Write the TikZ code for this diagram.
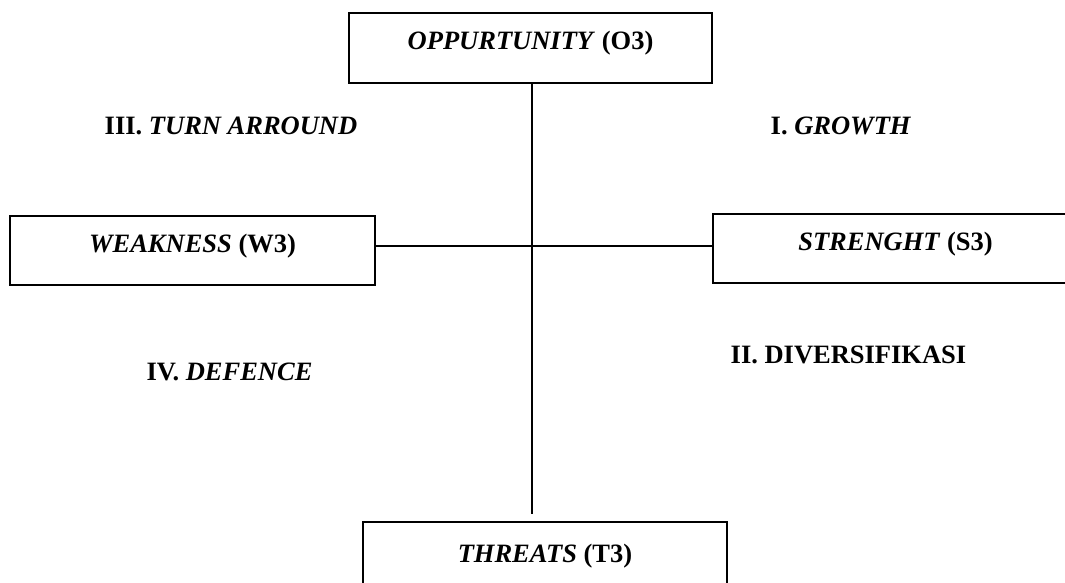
\documentclass[tikz,border=0pt]{standalone}
\usepackage{fontspec}
\setmainfont{Liberation Serif}
\newcommand{\swotfont}{\fontsize{26.5}{30}\selectfont\bfseries}
\begin{document}
\begin{tikzpicture}[x=1pt,y=-1pt,
  box/.style={draw, line width=1.6pt, inner sep=0pt, minimum height=70pt,
    text height=18pt, text depth=14.5pt, font=\swotfont},
  quad/.style={anchor=base, inner sep=0pt, font=\swotfont},
  conn/.style={line width=1.3pt}]
\useasboundingbox (0,0) rectangle (1065,583);
\clip (0,0) rectangle (1065,583);
\node[box, minimum width=363pt] (opp) at (530.5,48) {\textit{OPPURTUNITY} (O3)};
\node[box, minimum width=365pt, minimum height=69pt] (wk) at (192.5,250.5) {\textit{WEAKNESS} (W3)};
\node[box, minimum width=365pt, minimum height=69pt] (st) at (895.5,248.5) {\textit{STRENGHT} (S3)};
\node[box, minimum width=364pt, minimum height=77pt] (th) at (545,560.5) {\textit{THREATS} (T3)};
\node[quad] (q3) at (231,134.5) {III. \textit{TURN ARROUND}};
\node[quad] (q1) at (841,134.5) {I. \textit{GROWTH}};
\node[quad] (q4) at (229.5,380.5) {IV. \textit{DEFENCE}};
\node[quad] (q2) at (848.5,363.5) {II. DIVERSIFIKASI};
\coordinate (hc) at (532,246);
\coordinate (vend) at (532,514);
\draw[conn] (opp.south -| hc) -- (vend);
\draw[conn] (hc -| wk.east) -- (hc -| st.west);
\end{tikzpicture}
\end{document}
